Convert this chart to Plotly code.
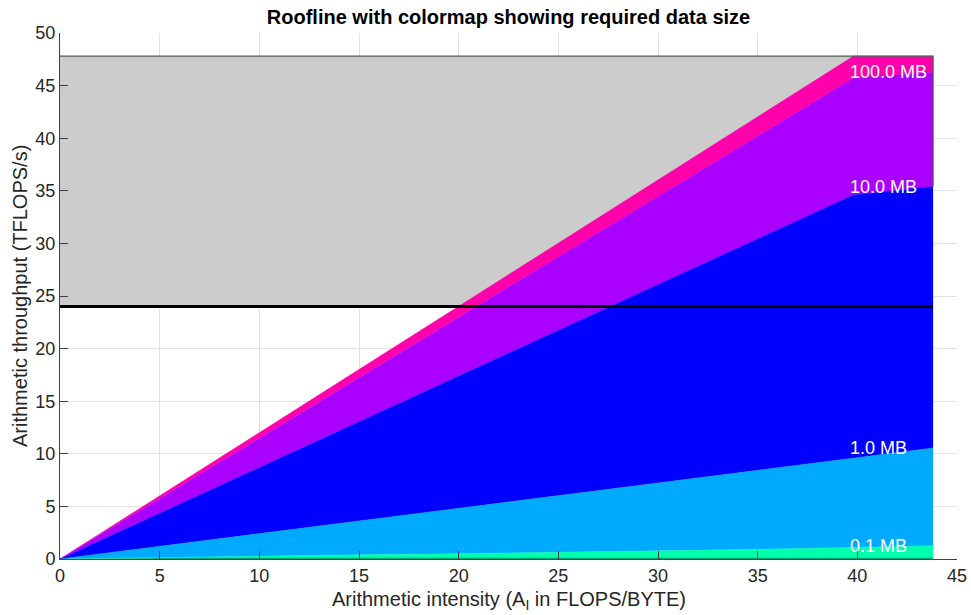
import plotly.graph_objects as go

# Arithmetic intensity samples (FLOPS/BYTE)
intensity = [0, 5, 10, 15, 20, 25, 30, 35, 39.8, 43.8]

# Upper edge of each data-size band (TFLOPS/s)
floor_top = [0, 0.1, 0.1, 0.1, 0.1, 0.1, 0.1, 0.1, 0.1, 0.1]
mb01_top = [0, 0.15, 0.28, 0.4, 0.5, 0.62, 0.78, 0.92, 1.1, 1.26]
mb1_top = [0, 1.2, 2.41, 3.62, 4.82, 6.03, 7.23, 8.44, 9.6, 10.55]
mb10_top = [0, 4.35, 8.7, 13.05, 17.4, 21.75, 26.1, 30.45, 34.6, 35.4]
mb100_top = [0, 5.75, 11.5, 17.25, 23.0, 28.75, 34.5, 40.25, 45.7, 46.3]
roof_top = [0, 6, 12, 18, 24, 30, 36, 42, 47.8, 47.8]

band_tops = [floor_top, mb01_top, mb1_top, mb10_top, mb100_top, roof_top]
band_colors = ["#00a87c", "#00ffaa", "#00aaff", "#0000ff", "#aa00ff", "#ff00aa"]

# Labels placed at the right end of each band boundary
label_names = ["0.1 MB", "1.0 MB", "10.0 MB", "100.0 MB"]
label_values = [mb01_top[-1], mb1_top[-1], mb10_top[-1], mb100_top[-1]]
label_x = 39.55

peak_tflops = 47.8
limit_tflops = 24
ai_max = intensity[-1]

FONT = "Liberation Sans"
TXT = "#262626"

fig = go.Figure()

# Gray region above the throughput limit
fig.add_trace(go.Scatter(
    x=[0, ai_max, ai_max, 0, 0],
    y=[limit_tflops, limit_tflops, peak_tflops, peak_tflops, limit_tflops],
    mode="lines", line=dict(width=0), fill="toself",
    fillcolor="#cccccc", hoverinfo="skip", showlegend=False))

# Stacked colour bands
fig.add_trace(go.Scatter(x=intensity, y=[0] * len(intensity), mode="lines",
                         line=dict(width=0), showlegend=False, hoverinfo="skip"))
for top, col in zip(band_tops, band_colors):
    fig.add_trace(go.Scatter(x=intensity, y=top, mode="lines",
                             line=dict(width=0.5, color=col), fill="tonexty",
                             fillcolor=col, showlegend=False, hoverinfo="skip"))

# Outline of the gray region (top and right side)
fig.add_trace(go.Scatter(
    x=[0, ai_max, ai_max], y=[peak_tflops, peak_tflops, mb10_top[-1]],
    mode="lines", line=dict(color="#555555", width=1.2),
    showlegend=False, hoverinfo="skip"))

# Throughput limit line
fig.add_trace(go.Scatter(
    x=[0, ai_max], y=[limit_tflops, limit_tflops], mode="lines",
    line=dict(color="black", width=3), showlegend=False, hoverinfo="skip"))

for name, val in zip(label_names, label_values):
    fig.add_annotation(x=label_x, y=val, text=name, showarrow=False,
                       xanchor="left", yanchor="middle",
                       font=dict(family=FONT, size=18, color="white"))

# Axis titles
fig.add_annotation(x=0.5, y=0, xref="paper", yref="paper",
                   text="Arithmetic intensity (A<sub>I</sub> in FLOPS/BYTE)",
                   showarrow=False, xanchor="center", yanchor="middle", yshift=-41,
                   font=dict(family=FONT, size=20, color=TXT))
fig.add_annotation(x=0, y=0.5, xref="paper", yref="paper",
                   text="Arithmetic throughput (TFLOPS/s)", textangle=-90,
                   showarrow=False, xanchor="center", yanchor="middle", xshift=-40,
                   font=dict(family=FONT, size=20, color=TXT))

axis_common = dict(
    showgrid=True, gridcolor="#e3e3e3", gridwidth=1, automargin=False,
    zeroline=False, showline=True, linecolor="#404040", linewidth=1,
    ticks="inside", ticklen=8, tickcolor="#404040",
    tickfont=dict(family=FONT, size=18, color=TXT),
)

fig.update_layout(
    width=971, height=615,
    margin=dict(l=60, r=14, t=33, b=56),
    plot_bgcolor="white", paper_bgcolor="white",
    title=dict(text="<b>Roofline with colormap showing required data size</b>",
               x=0.5237, xanchor="center", y=0.972, yanchor="middle",
               font=dict(family=FONT, size=20, color="black")),
    xaxis=dict(range=[0, 45], tick0=0, dtick=5, **axis_common),
    yaxis=dict(range=[0, 50], tick0=0, dtick=5, **axis_common),
)

fig.write_html("out.html")
